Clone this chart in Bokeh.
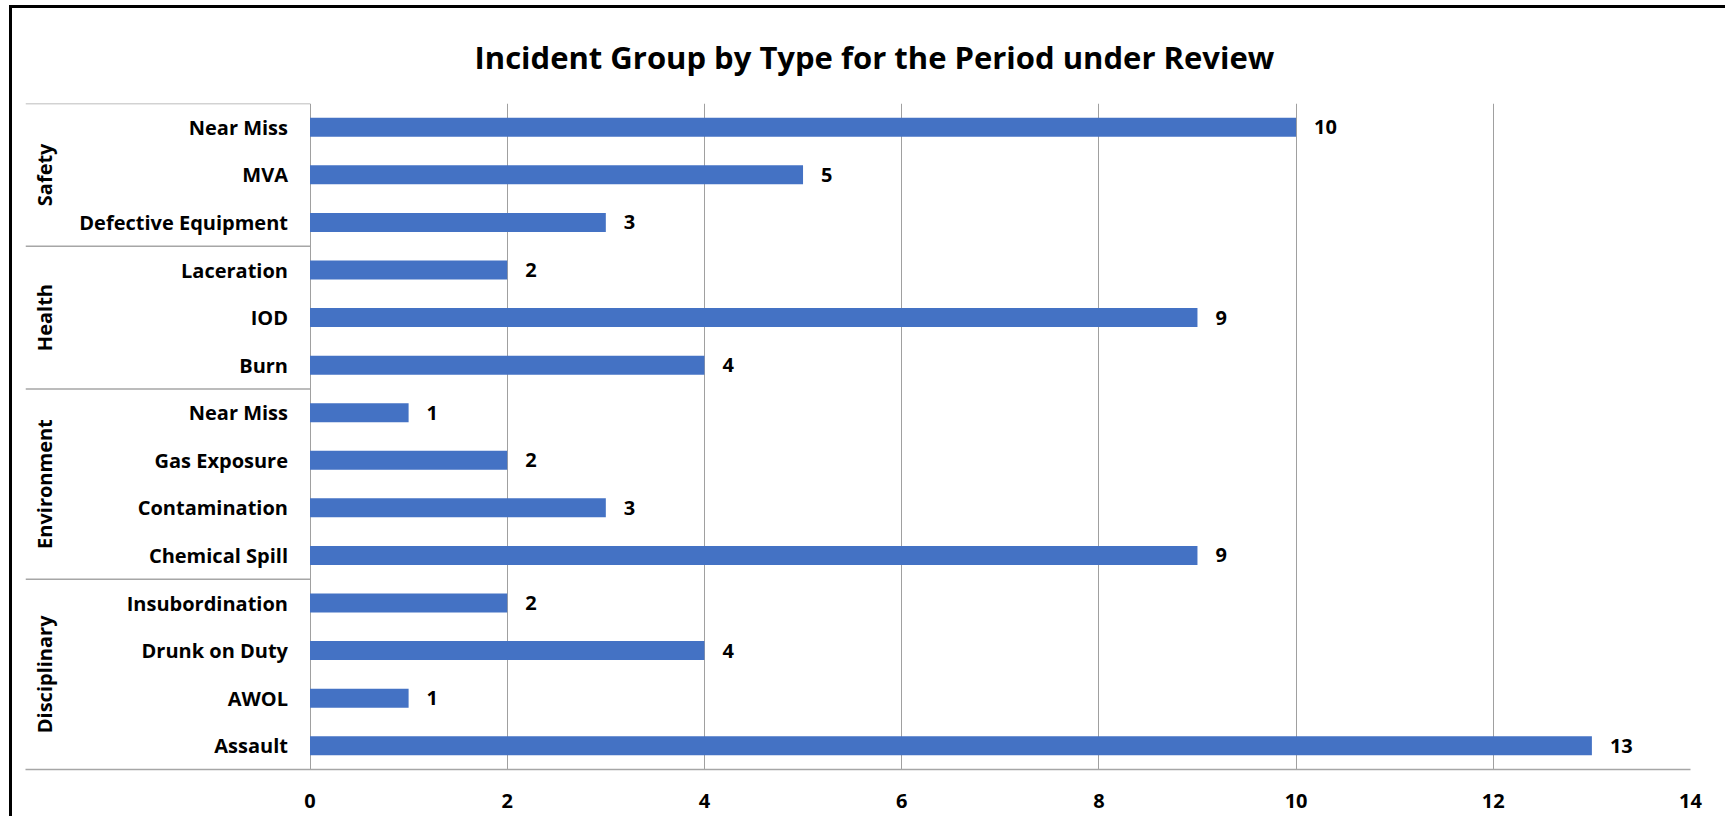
import numpy as np
from bokeh.plotting import figure
from bokeh.models import ColumnDataSource, FixedTicker, Range1d, Title, InlineStyleSheet
from bokeh.core.properties import value
from bokeh.embed import file_html
from bokeh.resources import INLINE

# ---- data (top to bottom as shown) ----
groups = ["Safety", "Health", "Environment", "Disciplinary"]
group_items = [
    ["Near Miss", "MVA", "Defective Equipment"],
    ["Laceration", "IOD", "Burn"],
    ["Near Miss", "Gas Exposure", "Contamination", "Chemical Spill"],
    ["Insubordination", "Drunk on Duty", "AWOL", "Assault"],
]
group_values = [
    [10, 5, 3],
    [2, 9, 4],
    [1, 2, 3, 9],
    [2, 4, 1, 13],
]
x_ticks = [0, 2, 4, 6, 8, 10, 12, 14]
title_text = "Incident Group by Type for the Period under Review"

FONT = "Open Sans"
BAR_COLOR = "#4472C4"
GRID_COLOR = "#A0A0A0"
SEP_COLOR = "#A6A6A6"

labels = [s for items in group_items for s in items]
values = [v for vals in group_values for v in vals]
n = len(labels)
ypos = [n - i - 0.5 for i in range(n)]  # top row at the top

bounds = []
centers = []
top = n
for items in group_items:
    bottom = top - len(items)
    bounds.append(top)
    centers.append((top + bottom) / 2)
    top = bottom

# canvas origin on the page (inside the border)
OX, OY = 12, 8
px_per_unit = (1690 - 309.5) / 14.0
x_start = -(309.5 - 25) / px_per_unit

W, H = 1716, 811
p = figure(width=W, height=H, output_backend="svg", toolbar_location=None,
           x_range=Range1d(x_start, 14), y_range=Range1d(0, n),
           min_border_left=25 - OX, min_border_right=W - (1690 - OX),
           min_border_top=round(102.7 - OY),
           min_border_bottom=round(H - (768.7 - OY)))
p.outline_line_color = None
p.background_fill_color = "white"
p.border_fill_color = "white"
p.stylesheets = [InlineStyleSheet(css=(
    ":host { position: relative; left: %dpx; top: %dpx; "
    "box-shadow: -3px -3px 0px 0px #000000; }" % (OX, OY)))]

p.title = Title(text=title_text, align="left", offset=474 - 25,
                text_font=FONT, text_font_size="31px", text_font_style="bold",
                text_color="black", standoff=51)

src = ColumnDataSource(dict(y=ypos, v=values, lab=labels,
                            vt=[str(v) for v in values]))
p.hbar(y="y", left=0, right="v", height=0.4, source=src,
       fill_color=BAR_COLOR, line_color=None)

p.text(x="v", y="y", text="vt", source=src, x_offset=18,
       text_align="left", text_baseline="middle",
       text_font=value(FONT), text_font_style="bold",
       text_font_size="20px", text_color="black")

p.text(x=0, y="y", text="lab", source=src, x_offset=-22,
       text_align="right", text_baseline="middle",
       text_font=value(FONT), text_font_style="bold",
       text_font_size="20px", text_color="black")

gsrc = ColumnDataSource(dict(y=centers, g=groups))
p.text(x=0, y="y", text="g", source=gsrc, x_offset=-266, angle=np.pi / 2,
       text_align="center", text_baseline="middle",
       text_font=value(FONT), text_font_style="bold",
       text_font_size="20px", text_color="black")

p.segment(x0=[x_start] * len(bounds), x1=[0] * len(bounds),
          y0=bounds, y1=bounds, line_color=SEP_COLOR, line_width=1.5)

p.yaxis.visible = False
p.ygrid.visible = False
p.xaxis.ticker = FixedTicker(ticks=x_ticks)
p.xgrid.ticker = FixedTicker(ticks=x_ticks)
p.xgrid.grid_line_color = GRID_COLOR
p.xgrid.grid_line_width = 1
p.xaxis.axis_line_color = SEP_COLOR
p.xaxis.axis_line_width = 1.5
p.xaxis.major_tick_line_color = None
p.xaxis.minor_tick_line_color = None
p.xaxis.major_label_standoff = 18
p.xaxis.major_label_text_font = FONT
p.xaxis.major_label_text_font_style = "bold"
p.xaxis.major_label_text_font_size = "20px"
p.xaxis.major_label_text_color = "black"

open("out.html", "w").write(file_html(p, INLINE))
